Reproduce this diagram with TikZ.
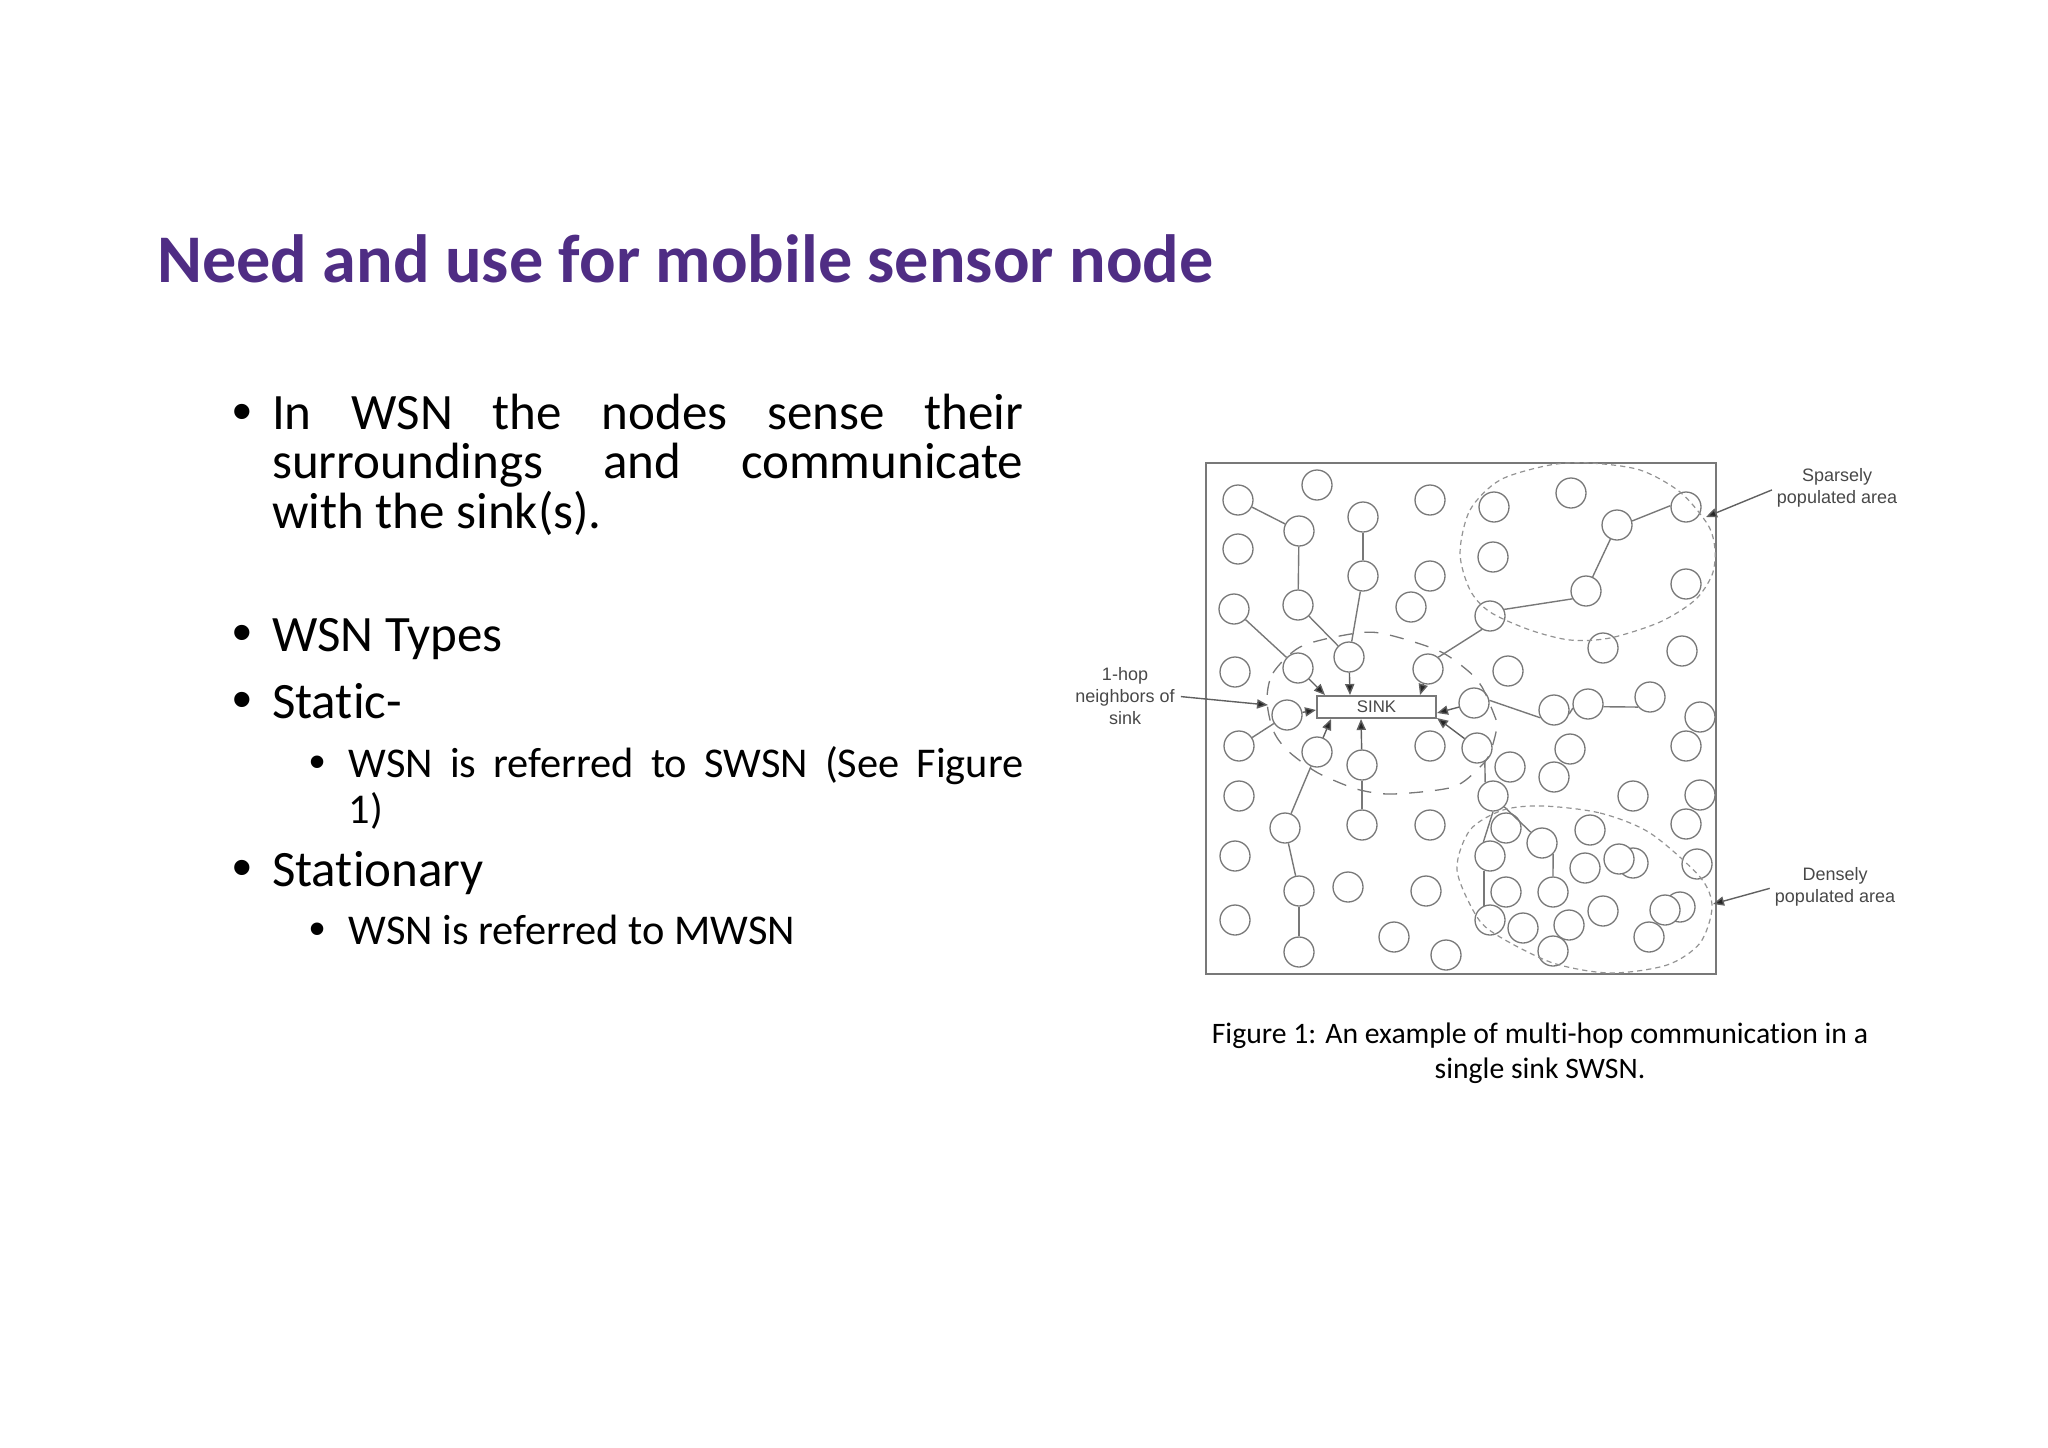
\documentclass[tikz,border=0pt]{standalone}
\usepackage{fontspec}
\setmainfont{Carlito}[Ligatures=NoCommon]
\newfontfamily\figfont{Liberation Sans}
\usetikzlibrary{arrows.meta}
\definecolor{titlecol}{HTML}{4F2D84}
\definecolor{figline}{HTML}{787878}
\definecolor{figtext}{HTML}{484848}
\tikzset{
  sensor/.style={circle,draw=figline,line width=0.65pt,fill=white,minimum size=15pt,inner sep=0pt},
  link/.style={draw=figline,line width=0.7pt},
  tolink/.style={draw=figline!80!black,line width=0.7pt,-{Triangle[length=5.5pt,width=4.6pt,fill=black!85]}},
  sinkbox/.style={draw=figline,line width=0.8pt,fill=white,minimum width=59.5pt,minimum height=11pt,inner sep=0pt,font=\figfont\fontsize{8.4}{10}\selectfont,text=figtext},
  figlabel/.style={font=\figfont\fontsize{9}{11}\selectfont,text=figtext,align=center,inner sep=0pt},
  sparse/.style={draw=figline!80,line width=0.6pt,dash pattern=on 2.6pt off 2pt},
  hop/.style={draw=figline,line width=0.65pt,dash pattern=on 7pt off 6pt},
  bigtext/.style={font=\fontsize{25.5}{24.6}\selectfont,anchor=base west,inner sep=0pt,align=left},
  subtext/.style={font=\fontsize{21.2}{23}\selectfont,anchor=base west,inner sep=0pt,align=left},
  bulletmark/.style={anchor=base,inner sep=0pt,font=\figfont\fontsize{28}{30}\selectfont},
  subbullet/.style={bulletmark,font=\figfont\fontsize{23}{24}\selectfont},
  captiontext/.style={font=\fontsize{14.85}{17.5}\selectfont,align=center,inner sep=0pt}
}
\begin{document}
\begin{tikzpicture}[x=0.5pt,y=-0.5pt]
\useasboundingbox (0,0) rectangle (2048,1447);
\node[anchor=base west,inner sep=0pt,text=titlecol,font=\bfseries\fontsize{34.1}{36}\selectfont] (title) at (157,282) {Need and use for mobile sensor node};
% text
\node[bulletmark] (b1) at (242,430) {•};
\node[bigtext] (t1) at (271.7,528) {\makebox[375.5pt][s]{In WSN the nodes sense their}\\\makebox[375.5pt][s]{surroundings and communicate}\\with the sink(s).};
\node[bulletmark] (b2) at (242,651) {•};
\node[bigtext] (t2) at (271.7,651) {WSN Types};
\node[bulletmark] (b3) at (242,718) {•};
\node[bigtext] (t3) at (271.7,718) {Static-};
\node[subbullet] (b4) at (318,777) {•};
\node[subtext] (t4) at (348.4,823) {\makebox[337.3pt][s]{WSN is referred to SWSN (See Figure}\\1)};
\node[bulletmark] (b5) at (242,886) {•};
\node[bigtext] (t5) at (271.7,886) {Stationary};
\node[subbullet] (b6) at (318,944) {•};
\node[subtext] (t6) at (348.4,944) {WSN is referred to MWSN};
\node[captiontext,anchor=base] (cap) at (1540,1078) {Figure 1: An example of multi-hop communication in a\\single sink SWSN.};
% frame
\node[draw=figline,line width=0.8pt,minimum width=255pt,minimum height=255.5pt,inner sep=0pt,anchor=north west] (frame) at (1205,462) {};
% sensors
\foreach \nm/\x/\y in {
a1/1238/500,a2/1317/485,a3/1299/531,a4/1238/549,a5/1363/517,a6/1430/500,a7/1494/507,a8/1493/557,
a9/1363/576,a10/1430/576,a11/1298/605,a12/1234/609,a13/1411/607,a14/1490/616,a15/1235/672,a16/1298/668,
a17/1349/657,a18/1428/669,a19/1508/671,a20/1474/703,a21/1287/715,
b1x/1571/493,b2x/1617/525,b3x/1686/507,b4x/1586/591,b5x/1686/584,b6x/1603/648,b7x/1682/651,
b8x/1554/710,b9x/1588/704,b10x/1650/697,b11x/1700/717,
c1/1239/746,c2/1317/752,c3/1362/765,c4/1430/746,c5/1477/748,c6/1510/767,c7/1493/796,c8/1239/796,
c9/1285/828,c10/1362/825,c11/1430/825,c12/1506/828,c13/1490/856,c14/1235/856,c15/1299/891,c16/1348/887,
c17/1426/891,c18/1506/892,c19/1235/920,c20/1490/920,c21/1523/928,c22/1394/937,c23/1299/952,c24/1446/955,
d1/1570/749,d2/1554/777,d3/1633/796,d4/1700/795,d5/1686/824,d6/1590/830,d7/1542/843,d8/1585/868,
d9/1633/863,d10/1619/859,d11/1697/864,d12/1553/892,d13/1603/911,d14/1680/907,d15/1665/910,d16/1569/925,
d17/1649/937,d18/1553/951,d19/1686/746}
  {\node[sensor] (\nm) at (\x,\y) {};}
% sink
\node[sinkbox] (sink) at (1376.5,707) {SINK};
\coordinate (s1) at (1325,695);
\coordinate (s2) at (1350,695);
\coordinate (s3) at (1420,695);
\coordinate (s4) at (1316,710);
\coordinate (s5) at (1437,713);
\coordinate (s6) at (1331,719);
\coordinate (s7) at (1361,719);
\coordinate (s8) at (1437,718);
% links
\draw[link] (a1)--(a3);
\draw[link] (a3)--(a11);
\draw[link] (a5)--(a9);
\draw[link] (a9)--(a17);
\draw[link] (a11)--(a17);
\draw[link] (a12)--(a16);
\draw[link] (a18.49)--(a14.-121);
\draw[link] (a14.25)--(b4x.-150);
\draw[link] (b4x)--(b2x);
\draw[link] (b2x.15)--(b3x.175);
\draw[link] (a20.10)--(b8x.-150);
\draw[link] (b8x.-15)--(b9x.-165);
\draw[link] (b9x.-10)--(b10x.-140);
\draw[link] (c1)--(a21);
\draw[link] (c9)--(c2);
\draw[link] (c9)--(c15);
\draw[link] (c15)--(c23);
\draw[link] (c10)--(c3);
\draw[link] (c5.-60)--(c7.120);
\draw[link] (c7.-90)--(c13.115);
\draw[link] (c13.-112)--(c20.112);
\draw[link] (c7)--(d7);
\draw[link] (d7.-45)--(d12.90);
% arrows to the sink
\draw[tolink] (a16)--(s1);
\draw[tolink] (a17)--(s2);
\draw[tolink] (a18)--(s3);
\draw[tolink] (a21)--(s4);
\draw[tolink] (a20)--(s5);
\draw[tolink] (c2)--(s6);
\draw[tolink] (c3)--(s7);
\draw[tolink] (c5)--(s8);
% areas
\draw[sparse] plot[smooth cycle] coordinates {(1460,553)(1470,510)(1500,480)(1550,465)(1590,463)(1640,470)(1680,492)(1708,525)(1715,550)(1712,575)(1695,600)(1660,622)(1610,638)(1570,640)(1530,630)(1490,612)(1470,590)};
\draw[sparse] plot[smooth cycle] coordinates {(1543,806)(1600,813)(1650,833)(1700,877)(1712,907)(1700,943)(1667,965)(1610,973)(1553,963)(1500,937)(1477,917)(1457,870)(1470,830)(1503,810)};
\draw[hop] plot[smooth cycle] coordinates {(1267,700)(1273,673)(1300,647)(1345,635)(1380,633)(1437,650)(1467,670)(1482,687)(1495,717)(1497,727)(1490,753)(1480,767)(1453,787)(1393,794)(1360,790)(1333,780)(1313,770)(1287,750)(1273,730)};
% labels
\node[figlabel] (lsparse) at (1837,488) {Sparsely\\populated area};
\node[figlabel] (ldense) at (1835,887) {Densely\\populated area};
\node[figlabel] (lhop) at (1125,696) {1-hop\\neighbors of\\sink};
\coordinate (tsparse) at (1706,517);
\coordinate (tdense) at (1713,904);
\coordinate (thop) at (1268,705);
\draw[tolink,shorten <=2.5pt] (lsparse.west)--(tsparse);
\draw[tolink,shorten <=2.5pt] (ldense.west)--(tdense);
\draw[tolink,shorten <=3pt] (lhop.east)--(thop);
\end{tikzpicture}
\end{document}
